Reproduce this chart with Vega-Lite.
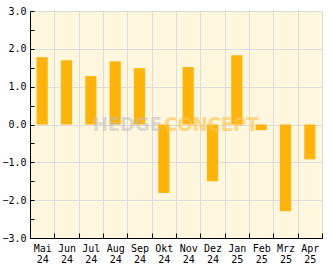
{
  "$schema": "https://vega.github.io/schema/vega-lite/v6.json",
  "width": 292,
  "height": 227,
  "autosize": "none",
  "padding": {"left": 30, "top": 11, "right": 10, "bottom": 31},
  "background": "#ffffff",
  "config": {
    "view": {"fill": "#FFF6DE", "stroke": null},
    "axis": {"labelFont": "DejaVu Sans Mono", "labelFontSize": 10, "labelColor": "#000000", "domainColor": "#000000", "tickColor": "#000000", "gridColor": "#DCDCDC", "gridWidth": 1, "domainWidth": 1, "tickWidth": 1, "labelOverlap": false}
  },
  "resolve": {"axis": {"x": "independent", "y": "independent"}},
  "data": {"values": [
    {"m": "Mai 24", "v": 1.78},
    {"m": "Jun 24", "v": 1.70},
    {"m": "Jul 24", "v": 1.28},
    {"m": "Aug 24", "v": 1.67},
    {"m": "Sep 24", "v": 1.49},
    {"m": "Okt 24", "v": -1.81},
    {"m": "Nov 24", "v": 1.52},
    {"m": "Dez 24", "v": -1.50},
    {"m": "Jan 25", "v": 1.83},
    {"m": "Feb 25", "v": -0.15},
    {"m": "Mrz 25", "v": -2.29},
    {"m": "Apr 25", "v": -0.92}
  ]},
  "layer": [
    {
      "mark": {"type": "bar", "color": "#FFB40C", "width": {"band": 0.46}},
      "encoding": {
        "x": {"field": "m", "type": "nominal", "title": null,
          "sort": ["Mai 24", "Jun 24", "Jul 24", "Aug 24", "Sep 24", "Okt 24", "Nov 24", "Dez 24", "Jan 25", "Feb 25", "Mrz 25", "Apr 25"],
          "scale": {"paddingInner": 0, "paddingOuter": 0},
          "axis": {"labelAngle": 0, "tickBand": "extent", "tickSize": -5, "labelPadding": 10, "labelExpr": "split(datum.label, ' ')", "labelLineHeight": 11, "labelBaseline": "top", "grid": true}},
        "y": {"field": "v", "type": "quantitative", "title": null,
          "scale": {"domain": [-3, 3], "nice": false},
          "axis": {"values": [-3, -2.5, -2, -1.5, -1, -0.5, 0, 0.5, 1, 1.5, 2, 2.5, 3], "labelExpr": "datum.value % 1 === 0 ? format(datum.value, '.1f') : ''", "tickSize": -4, "labelPadding": 8, "grid": true, "gridOpacity": {"condition": {"test": "datum.value % 1 !== 0", "value": 0}, "value": 1}}}
      }
    },
    {
      "data": {"values": [{"t": "HEDGE", "m": "Nov 24", "v": 0}]},
      "mark": {"type": "text", "align": "right", "baseline": "middle", "dx": -14, "font": "DejaVu Sans Condensed", "fontWeight": "bold", "fontSize": 20, "color": "#BDBDBD", "opacity": 0.5},
      "encoding": {
        "x": {"field": "m", "type": "nominal", "bandPosition": 0, "axis": null, "sort": ["Mai 24", "Jun 24", "Jul 24", "Aug 24", "Sep 24", "Okt 24", "Nov 24", "Dez 24", "Jan 25", "Feb 25", "Mrz 25", "Apr 25"]},
        "y": {"field": "v", "type": "quantitative", "axis": null},
        "text": {"field": "t"}
      }
    },
    {
      "data": {"values": [{"t": "CONCEPT", "m": "Nov 24", "v": 0}]},
      "mark": {"type": "text", "align": "left", "baseline": "middle", "dx": -12, "font": "DejaVu Sans Condensed", "fontWeight": "bold", "fontSize": 20, "color": "#FFC550", "opacity": 0.65},
      "encoding": {
        "x": {"field": "m", "type": "nominal", "bandPosition": 0, "axis": null, "sort": ["Mai 24", "Jun 24", "Jul 24", "Aug 24", "Sep 24", "Okt 24", "Nov 24", "Dez 24", "Jan 25", "Feb 25", "Mrz 25", "Apr 25"]},
        "y": {"field": "v", "type": "quantitative", "axis": null},
        "text": {"field": "t"}
      }
    }
  ]
}
